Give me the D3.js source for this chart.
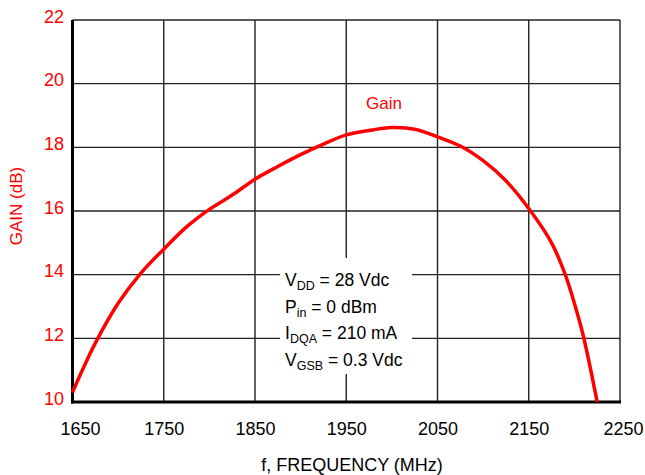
<!DOCTYPE html>
<html>
<head>
<meta charset="utf-8">
<script src="https://cdn.jsdelivr.net/npm/d3@7"></script>
<style>
	body { margin: 0; background: #fff; }
	text { font-family: "Liberation Sans", Arial, sans-serif; }
</style>
</head>
<body>
<div id="chart"></div>
<script>

////////////////////////////////////////
// gain vs frequency data

var freqs = [1650, 1660, 1675, 1700, 1725, 1750, 1775, 1800, 1825, 1850, 1875, 1900, 1925,
	1950, 1975, 2000, 2025, 2050, 2075, 2100, 2125, 2150, 2175, 2190, 2200, 2210, 2225];
var gains = [10.3, 10.95, 11.85, 13.1, 14.05, 14.8, 15.5, 16.05, 16.5, 17.0, 17.4, 17.77, 18.1,
	18.39, 18.53, 18.62, 18.57, 18.33, 18.04, 17.58, 16.95, 16.08, 15.0, 14.0, 13.1, 12.05, 10.0];

var xTicks = [1650, 1750, 1850, 1950, 2050, 2150, 2250];
var yTicks = [10, 12, 14, 16, 18, 20, 22];

// test conditions note, each line is [main, subscript, rest]
var noteLines = [
	["V", "DD", " = 28 Vdc"],
	["P", "in", " = 0 dBm"],
	["I", "DQA", " = 210 mA"],
	["V", "GSB", " = 0.3 Vdc"]
];

var width  = 645;
var height = 475;
var plot = {left: 72.5, right: 620, top: 20, bottom: 402};

var svg = d3.select("#chart").append("svg")
	.attr("width",  width)
	.attr("height", height);

var x = d3.scaleLinear().domain([1650, 2250]).range([plot.left, plot.right]);
var y = d3.scaleLinear().domain([10, 22]).range([plot.bottom, plot.top]);

////////////////////////////////////////
// grid

var grid = svg.append("g");

grid.selectAll(".vgrid")
	.data(xTicks)
	.enter().append("line")
	.attr("x1", function(d) { return x(d); })
	.attr("x2", function(d) { return x(d); })
	.attr("y1", plot.top)
	.attr("y2", plot.bottom)
	.attr("stroke", "#222")
	.attr("stroke-width", 1.4);

grid.selectAll(".hgrid")
	.data(yTicks)
	.enter().append("line")
	.attr("x1", plot.left)
	.attr("x2", plot.right)
	.attr("y1", function(d) { return y(d); })
	.attr("y2", function(d) { return y(d); })
	.attr("stroke", "#222")
	.attr("stroke-width", 1.4);

////////////////////////////////////////
// white box behind the note covers the grid

svg.append("rect")
	.attr("x", 280)
	.attr("y", 258)
	.attr("width", 132)
	.attr("height", 116)
	.attr("fill", "#fff");

var note = svg.append("g");
noteLines.forEach(function(l, i) {
	var t = note.append("text")
		.attr("x", 285)
		.attr("y", 286 + i * 26.7)
		.attr("font-size", 17.5)
		.attr("fill", "#000");
	t.append("tspan").text(l[0]);
	t.append("tspan").attr("font-size", 12.5).attr("dy", 4).text(l[1]);
	t.append("tspan").attr("dy", -4).text(l[2]);
});

////////////////////////////////////////
// thick left and bottom frame

svg.append("line")
	.attr("x1", plot.left).attr("x2", plot.left)
	.attr("y1", plot.top).attr("y2", plot.bottom + 1.5)
	.attr("stroke", "#000").attr("stroke-width", 3);

svg.append("line")
	.attr("x1", plot.left - 1.5).attr("x2", plot.right + 1)
	.attr("y1", plot.bottom).attr("y2", plot.bottom)
	.attr("stroke", "#000").attr("stroke-width", 3);

////////////////////////////////////////
// axes

var xAxis = svg.append("g")
	.attr("transform", "translate(0," + plot.bottom + ")")
	.call(d3.axisBottom(x).tickValues(xTicks).tickSize(0).tickPadding(20).tickFormat(d3.format("d")));
xAxis.select(".domain").remove();
xAxis.selectAll("text")
	.attr("font-size", 18)
	.attr("font-family", "Liberation Sans, Arial, sans-serif")
	.attr("fill", "#000")
	.attr("dx", function(d) { return d === 1650 ? 7.5 : (d === 2250 ? 3 : 0); });

var yAxis = svg.append("g")
	.attr("transform", "translate(" + plot.left + ",0)")
	.call(d3.axisLeft(y).tickValues(yTicks).tickSize(0).tickPadding(8.5));
yAxis.select(".domain").remove();
yAxis.selectAll("text")
	.attr("font-size", 18)
	.attr("font-family", "Liberation Sans, Arial, sans-serif")
	.attr("fill", "#ff0000")
	.attr("dy", "0.12em");

svg.append("text")
	.attr("x", 352)
	.attr("y", 471)
	.attr("text-anchor", "middle")
	.attr("font-size", 18)
	.attr("fill", "#000")
	.text("f, FREQUENCY (MHz)");

svg.append("text")
	.attr("transform", "translate(22,206) rotate(-90)")
	.attr("text-anchor", "middle")
	.attr("font-size", 17)
	.attr("fill", "#ff0000")
	.text("GAIN (dB)");

////////////////////////////////////////
// gain curve

var line = d3.line()
	.x(function(d, i) { return x(freqs[i]); })
	.y(function(d) { return y(d); })
	.curve(d3.curveCatmullRom);

svg.append("path")
	.datum(gains)
	.attr("d", line)
	.attr("fill", "none")
	.attr("stroke", "#ff0000")
	.attr("stroke-width", 3.5);

svg.append("text")
	.attr("x", 384)
	.attr("y", 109)
	.attr("text-anchor", "middle")
	.attr("font-size", 17)
	.attr("fill", "#ff0000")
	.text("Gain");

</script>
</body>
</html>
